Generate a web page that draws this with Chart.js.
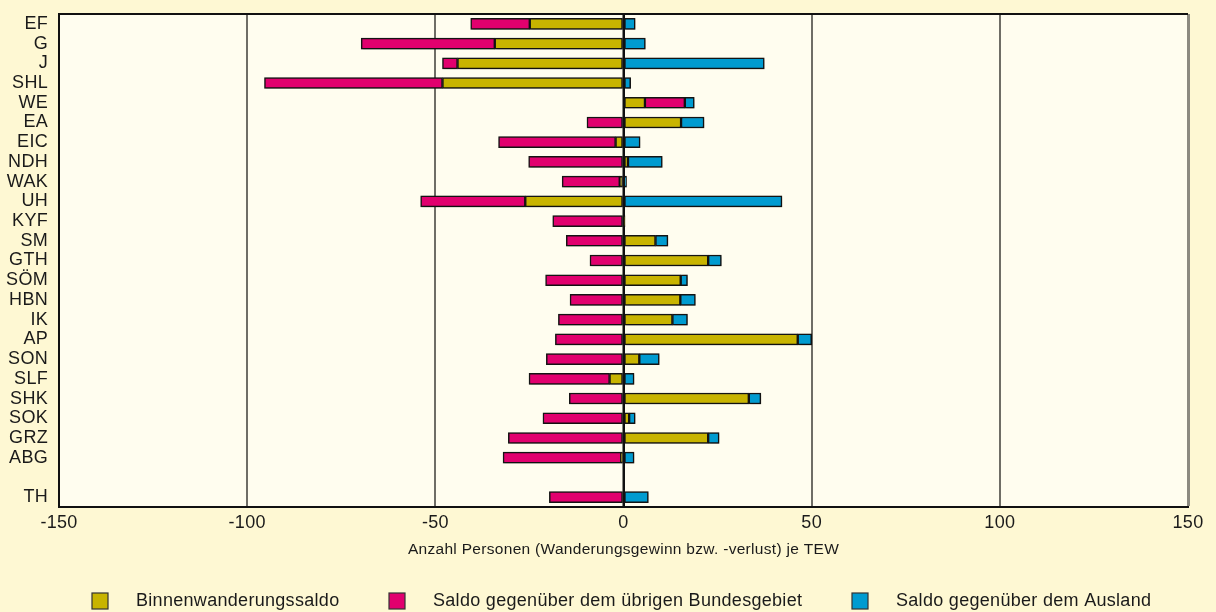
<!DOCTYPE html>
<html>
<head>
<meta charset="utf-8">
<script src="https://cdn.jsdelivr.net/npm/chart.js@4/dist/chart.umd.min.js"></script>
<style>
html,body{margin:0;padding:0;background:#fef8d3}
#wrap{width:1216px;height:612px}
</style>
</head>
<body>
<div id="wrap"><canvas id="chart" width="1216" height="612"></canvas></div>
<script>
// Kreise (Zeilen), leere Zeile vor TH
const kreise=["EF","G","J","SHL","WE","EA","EIC","NDH","WAK","UH","KYF","SM","GTH","SÖM","HBN","IK","AP","SON","SLF","SHK","SOK","GRZ","ABG","","TH"]

const binnen=[-24.9,-34.2,-44.1,-48.1,5.7,15.3,-2.1,1.2,-1.0,-26.1,0.4,8.5,22.5,15.2,15.1,13.0,46.3,4.2,-3.7,33.3,1.5,22.5,-0.6,null,0]
const bund=[-15.7,-35.5,-4.0,-47.3,10.6,-9.7,-31.1,-25.2,-15.3,-27.8,-18.8,-15.2,-8.9,-20.7,-14.2,-17.3,-18.1,-20.5,-21.4,-14.4,-21.4,-30.6,-31.4,null,-19.7]
const ausland=[3.1,5.8,37.4,1.9,2.5,6.1,4.4,9.1,0.8,42.1,0,3.3,3.5,1.8,4.0,4.0,3.7,5.3,2.8,3.2,1.6,2.9,2.8,null,6.6]

const serien=["Binnenwanderungssaldo","Saldo gegenüber dem übrigen Bundesgebiet","Saldo gegenüber dem Ausland"]
const farben=["#c8b400","#e1006e","#009bd0"]

const xMin=-150
const xMax=150
const xStep=50

const FONT="'Liberation Sans', Arial, Helvetica, sans-serif"
const TEXT="#1a1a1a"
const SPACING="0.3px"

const bgPlugin={
id:"bg",
beforeDraw(c){
const ctx=c.ctx
const a=c.chartArea
ctx.letterSpacing=SPACING
ctx.save()
ctx.fillStyle="#fef8d3"
ctx.fillRect(0,0,c.width,c.height)
ctx.fillStyle="#fffdef"
ctx.fillRect(a.left,a.top,a.right-a.left,a.bottom-a.top)
ctx.restore()
},
beforeDatasetsDraw(c){
const ctx=c.ctx
ctx.save()
ctx.shadowColor="rgba(0,0,0,0.35)"
ctx.shadowBlur=3
ctx.shadowOffsetX=1
ctx.shadowOffsetY=1
},
afterDatasetsDraw(c){
const ctx=c.ctx
ctx.restore()
const a=c.chartArea
const x0=c.scales.x.getPixelForValue(0)
ctx.save()
ctx.strokeStyle="#111"
ctx.lineWidth=2
ctx.beginPath()
ctx.moveTo(x0,a.top)
ctx.lineTo(x0,a.bottom)
ctx.stroke()
ctx.beginPath()
ctx.moveTo(a.left-1,a.top)
ctx.lineTo(a.right,a.top)
ctx.stroke()
ctx.restore()
},
afterDraw(c){
// Legende unten
const ctx=c.ctx
const boxX=[92,389,852]
const y=601
ctx.save()
ctx.letterSpacing=SPACING
ctx.font="18px "+FONT
ctx.textBaseline="middle"
ctx.textAlign="left"
for(let i=0;i<serien.length;i++){
ctx.fillStyle=farben[i]
ctx.fillRect(boxX[i],y-8,16,16)
ctx.strokeStyle="#333"
ctx.lineWidth=1.2
ctx.strokeRect(boxX[i],y-8,16,16)
ctx.fillStyle=TEXT
ctx.fillText(serien[i],boxX[i]+44,y)
}
ctx.restore()
}
}

function gridColor(v){
if(v===0||v===xMin)return "#111"
if(v===xMax)return "#8c8a80"
return "#6f6d66"
}

const ctx=document.getElementById("chart")

new Chart(ctx,{
type:"bar",
data:{
labels:kreise,
datasets:[
{label:serien[0],data:binnen,backgroundColor:farben[0]},
{label:serien[1],data:bund,backgroundColor:farben[1]},
{label:serien[2],data:ausland,backgroundColor:farben[2]}
]
},
options:{
indexAxis:"y",
responsive:false,
animation:false,
devicePixelRatio:1,
layout:{padding:{top:14,right:28,bottom:53,left:0}},
datasets:{bar:{barThickness:11,borderWidth:1.5,borderColor:"#151515",borderSkipped:false}},
plugins:{legend:{display:false},tooltip:{enabled:false}},
scales:{
x:{
stacked:true,
min:xMin,
max:xMax,
ticks:{stepSize:xStep,color:TEXT,font:{size:18,family:FONT},padding:5},
grid:{drawTicks:false,color:(c)=>gridColor(c.tick.value),lineWidth:(c)=>c.tick.value===xMax?3:2},
border:{display:true,color:"#111",width:2},
title:{display:true,text:"Anzahl Personen (Wanderungsgewinn bzw. -verlust) je TEW",color:TEXT,font:{size:15.5,family:FONT},padding:{top:0,bottom:0}},
afterFit(s){s.height=52;s.paddingLeft=0;s.paddingRight=0}
},
y:{
stacked:true,
ticks:{color:TEXT,font:{size:18,family:FONT},padding:11,autoSkip:false},
grid:{display:false,drawTicks:false},
border:{display:true,color:"#111",width:2},
afterFit(s){s.width=59;s.paddingTop=0;s.paddingBottom=0}
}
}
},
plugins:[bgPlugin]
})
</script>
</body>
</html>
